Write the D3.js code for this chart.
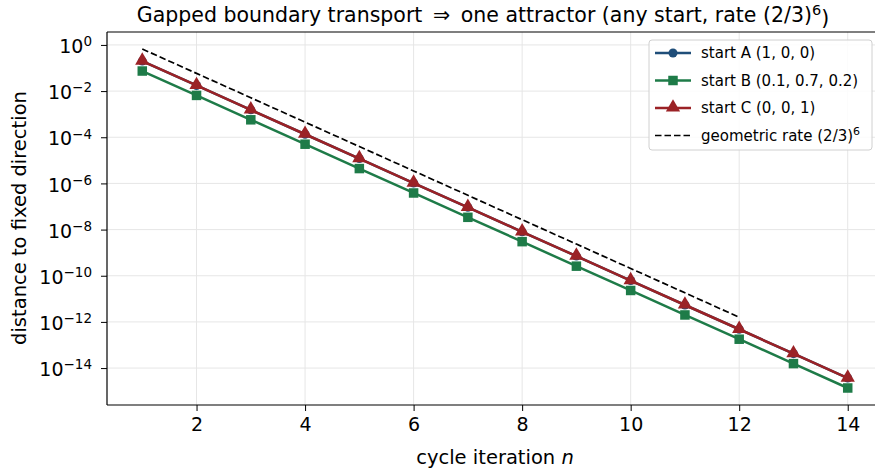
<!DOCTYPE html>
<meta charset="utf-8">
<head>
  <script src="https://d3js.org/d3.v7.min.js"></script>
  <style>
    body { margin: 0; background: #fff; font-family: 'DejaVu Sans', sans-serif; }
  </style>
</head>
<div id="my_dataviz"></div>
<script>
  // data
  var iterations = [1, 2, 3, 4, 5, 6, 7, 8, 9, 10, 11, 12, 13, 14];
  var startA = [2.0e-1, 1.75e-2, 1.54e-3, 1.35e-4, 1.19e-5, 1.04e-6, 9.2e-8, 8.0e-9, 7.1e-10, 6.2e-11, 5.4e-12, 4.8e-13, 4.2e-14, 3.7e-15];
  var startB = [7.4e-2, 6.5e-3, 5.7e-4, 5.0e-5, 4.4e-6, 3.85e-7, 3.4e-8, 3.0e-9, 2.6e-10, 2.3e-11, 2.0e-12, 1.78e-13, 1.56e-14, 1.37e-15];
  var startC = [2.0e-1, 1.75e-2, 1.54e-3, 1.35e-4, 1.19e-5, 1.04e-6, 9.2e-8, 8.0e-9, 7.1e-10, 6.2e-11, 5.4e-12, 4.8e-13, 4.2e-14, 3.7e-15];
  var rateIter = [1, 2, 3, 4, 5, 6, 7, 8, 9, 10, 11, 12];
  var rateRef = [6.67e-1, 5.85e-2, 5.14e-3, 4.51e-4, 3.96e-5, 3.48e-6, 3.05e-7, 2.68e-8, 2.35e-9, 2.07e-10, 1.82e-11, 1.59e-12];
  var xTicks = [2, 4, 6, 8, 10, 12, 14];
  var yTickExp = [0, -2, -4, -6, -8, -10, -12, -14];

  var series = [
    { name: "start A (1, 0, 0)", values: startA, color: "#1f4e79", marker: "circle" },
    { name: "start B (0.1, 0.7, 0.2)", values: startB, color: "#1e7b48", marker: "square" },
    { name: "start C (0, 0, 1)", values: startC, color: "#9b2226", marker: "triangle" }
  ];

  var margin = { top: 32, right: 0, bottom: 68, left: 107 },
    width = 776,
    height = 473 - margin.top - margin.bottom;

  var root = d3.select("#my_dataviz")
    .append("svg")
    .attr("width", 875)
    .attr("height", 473);

  var svg = root.append("g")
    .attr("transform", "translate(" + margin.left + "," + margin.top + ")");

  var x = d3.scaleLinear().domain([0.35, 14.65]).range([0, width]);
  var y = d3.scaleLog().domain([Math.pow(10, -15.6), Math.pow(10, 0.56)]).range([height, 0]);

  // grid
  svg.selectAll(".gx").data(xTicks).enter().append("line")
    .attr("x1", function (d) { return x(d); }).attr("x2", function (d) { return x(d); })
    .attr("y1", 0).attr("y2", height)
    .attr("stroke", "#e6e6e6").attr("stroke-width", 1);
  svg.selectAll(".gy").data(yTickExp).enter().append("line")
    .attr("x1", 0).attr("x2", width)
    .attr("y1", function (d) { return y(Math.pow(10, d)); })
    .attr("y2", function (d) { return y(Math.pow(10, d)); })
    .attr("stroke", "#e6e6e6").attr("stroke-width", 1);

  // axes
  var xAxis = svg.append("g")
    .attr("transform", "translate(0," + height + ")")
    .call(d3.axisBottom(x).tickValues(xTicks).tickSize(6).tickPadding(7).tickFormat(d3.format("d")));
  xAxis.selectAll("text").style("font-size", "19px").style("font-family", "DejaVu Sans").attr("fill", "#000");

  var yAxis = svg.append("g")
    .call(d3.axisLeft(y).tickValues(yTickExp.map(function (e) { return Math.pow(10, e); })).tickSize(6).tickPadding(6).tickFormat(""));
  yAxis.selectAll(".tick").each(function (d, i) {
    var t = d3.select(this).append("text")
      .attr("x", -15).attr("dy", "0.4em")
      .attr("text-anchor", "end")
      .attr("fill", "#000")
      .style("font-size", "19px")
      .style("font-family", "DejaVu Sans");
    var e = yTickExp[i];
    t.append("tspan").text("10");
    t.append("tspan").attr("dy", "-0.5em").style("font-size", "13.5px")
      .text(e === 0 ? "0" : "\u2212" + Math.abs(e));
  });
  svg.selectAll(".domain").remove();
  svg.selectAll(".tick line").attr("stroke", "#000").attr("stroke-width", 1);

  // spines
  svg.append("line").attr("x1", 0).attr("x2", 0).attr("y1", 0).attr("y2", height).attr("stroke", "#000").attr("stroke-width", 1.2);
  svg.append("line").attr("x1", 0).attr("x2", width).attr("y1", height).attr("y2", height).attr("stroke", "#000").attr("stroke-width", 1.2);
  svg.append("line").attr("x1", 0).attr("x2", width).attr("y1", 0).attr("y2", 0).attr("stroke", "#000").attr("stroke-width", 1.2);
  svg.append("line").attr("x1", width).attr("x2", width).attr("y1", 0).attr("y2", height).attr("stroke", "#000").attr("stroke-width", 1.2);

  var line = d3.line()
    .x(function (d) { return x(d[0]); })
    .y(function (d) { return y(d[1]); });

  function drawMarker(g, type, color, cx, cy) {
    if (type === "circle") {
      g.append("circle").attr("cx", cx).attr("cy", cy).attr("r", 4.5).attr("fill", color);
    } else if (type === "square") {
      g.append("rect").attr("x", cx - 4.75).attr("y", cy - 4.75).attr("width", 9.5).attr("height", 9.5).attr("fill", color);
    } else {
      g.append("path").attr("d", d3.symbol().type(d3.symbolTriangle).size(88)()).attr("transform", "translate(" + cx + "," + (cy - 0.5) + ")").attr("fill", color);
    }
  }

  series.forEach(function (s) {
    var pts = iterations.map(function (n, i) { return [n, s.values[i]]; });
    svg.append("path").datum(pts)
      .attr("fill", "none").attr("stroke", s.color).attr("stroke-width", 2.5)
      .attr("d", line);
    var mg = svg.append("g");
    pts.forEach(function (p) { drawMarker(mg, s.marker, s.color, x(p[0]), y(p[1])); });
  });

  // geometric rate reference
  svg.append("path")
    .datum(rateIter.map(function (n, i) { return [n, rateRef[i]]; }))
    .attr("fill", "none").attr("stroke", "#000").attr("stroke-width", 1.7)
    .attr("stroke-dasharray", "6.5,3")
    .attr("d", line);

  // legend
  var lg = root.append("g").attr("transform", "translate(649,40)");
  lg.append("rect").attr("width", 223).attr("height", 110).attr("rx", 3)
    .attr("fill", "#fff").attr("fill-opacity", 0.85).attr("stroke", "#d0d0d0");
  var items = series.concat([{ name: "geometric rate (2/3)", color: "#000", marker: "dash" }]);
  items.forEach(function (s, i) {
    var yy = 13 + i * 27.5;
    if (s.marker === "dash") {
      lg.append("line").attr("x1", 6).attr("x2", 42).attr("y1", yy).attr("y2", yy)
        .attr("stroke", "#000").attr("stroke-width", 1.7).attr("stroke-dasharray", "6.5,3");
    } else {
      lg.append("line").attr("x1", 6).attr("x2", 42).attr("y1", yy).attr("y2", yy)
        .attr("stroke", s.color).attr("stroke-width", 2.5);
      drawMarker(lg, s.marker, s.color, 24, yy);
    }
    var t = lg.append("text").attr("x", 52).attr("y", yy).attr("dy", "0.35em")
      .style("font-size", "15px").attr("fill", "#000").text(s.name);
    if (s.marker === "dash") {
      t.append("tspan").attr("dy", "-0.5em").style("font-size", "11px").text("6");
    }
  });

  // title and labels
  var title = root.append("text").attr("x", 483).attr("y", 22).attr("text-anchor", "middle")
    .style("font-size", "20.5px").attr("fill", "#000")
    .text("Gapped boundary transport \u2009\u21d2\u2009 one attractor (any start, rate (2/3)");
  title.append("tspan").attr("dy", "-0.5em").style("font-size", "14.5px").text("6");
  title.append("tspan").attr("dy", "0.5em").text(")");

  var xl = root.append("text").attr("x", 495).attr("y", 464).attr("text-anchor", "middle")
    .style("font-size", "19.5px").attr("fill", "#000").text("cycle iteration ");
  xl.append("tspan").style("font-style", "italic").text("n");

  root.append("text")
    .attr("transform", "translate(26,218) rotate(-90)")
    .attr("text-anchor", "middle")
    .style("font-size", "19.5px").attr("fill", "#000")
    .text("distance to fixed direction");
</script>
